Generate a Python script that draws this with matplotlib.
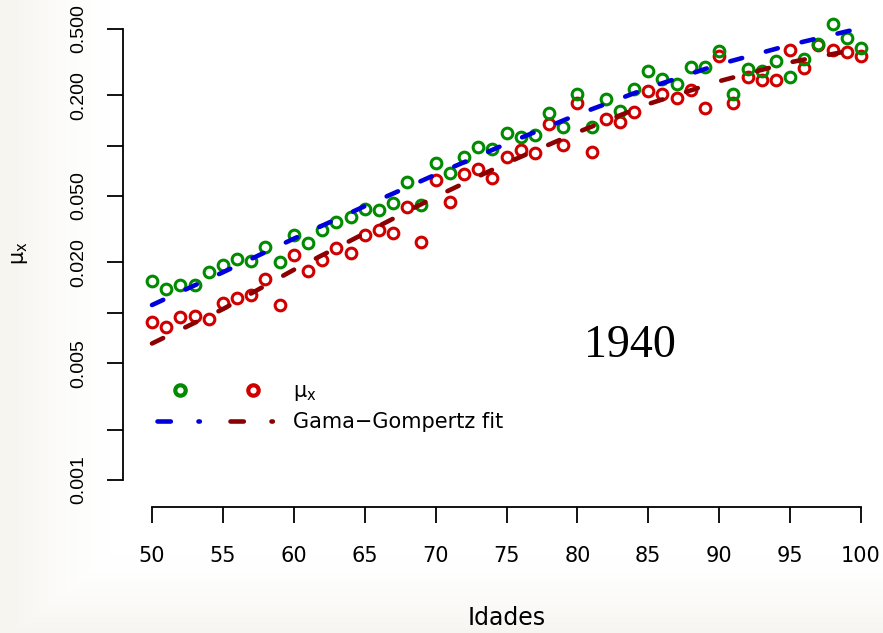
import numpy as np
import matplotlib
matplotlib.use("Agg")
import matplotlib.pyplot as plt
from matplotlib.lines import Line2D
from matplotlib.legend_handler import HandlerTuple
from matplotlib.ticker import NullLocator

plt.rcParams['lines.scale_dashes'] = False
plt.rcParams['mathtext.fontset'] = 'dejavusans'

# observed mu_x, ages 50..100
ages = list(range(50, 101))
mu_green = [0.01549, 0.01388, 0.01467, 0.01467, 0.01754, 0.01932, 0.02098, 0.02040, 0.02475, 0.02012,
            0.02920, 0.02615, 0.03128, 0.03493, 0.03741, 0.04177, 0.04120, 0.04537, 0.06057, 0.04414,
            0.07923, 0.06857, 0.08546, 0.09808, 0.09543, 0.1190, 0.1126, 0.1157, 0.1567, 0.1292,
            0.2049, 0.1292, 0.1900, 0.1610, 0.2180, 0.2794, 0.2502, 0.2335, 0.2952, 0.2952,
            0.3680, 0.2035, 0.2872, 0.2794, 0.3206, 0.2572, 0.3295, 0.4053, 0.5337, 0.4401,
            0.3835]
mu_red = [0.00881, 0.008225, 0.009438, 0.00957, 0.009182, 0.01145, 0.01226, 0.01278, 0.01593, 0.01114,
          0.02217, 0.01778, 0.02069, 0.02441, 0.02279, 0.02920, 0.03128, 0.03001, 0.04294, 0.02651,
          0.06184, 0.04600, 0.06763, 0.07244, 0.06400, 0.08546, 0.09412, 0.09031, 0.1347, 0.1008,
          0.1798, 0.09156, 0.1443, 0.1384, 0.1589, 0.2121, 0.2035, 0.1927, 0.2150, 0.1679,
          0.3435, 0.1798, 0.2572, 0.2468, 0.2468, 0.3731, 0.2912, 0.3997, 0.3731, 0.3628,
          0.3435]

# Gamma-Gompertz fitted curves
fit_ages = [50, 55, 60, 65, 70, 75, 80, 85, 90, 95, 100]
fit_blue = [0.01113, 0.01747, 0.02775, 0.04341, 0.0671, 0.1026, 0.1532, 0.2214, 0.3063, 0.4002, 0.505]
fit_darkred = [0.006553, 0.01052, 0.01808, 0.02988, 0.04941, 0.07868, 0.1201, 0.1773, 0.2427, 0.3149, 0.3808]

xticks = list(range(50, 101, 5))
yticks = [0.001, 0.002, 0.005, 0.01, 0.02, 0.05, 0.1, 0.2, 0.5]
ytick_labels = ['0.001', '', '0.005', '', '0.020', '0.050', '', '0.200', '0.500']

GREEN = '#008B00'
RED = '#D10000'
BLUE = '#0000DD'
DARKRED = '#8B0000'

W, H = 883, 633
fig = plt.figure(figsize=(W / 100, H / 100), dpi=100)

# soft off-white border like the slide background
yy, xx = np.mgrid[0:H, 0:W]
w = np.maximum(np.clip((110 - xx) / 100, 0, 1), np.clip((yy - 555) / 78, 0, 1)) ** 1.5
bg = np.array([1.0, 1.0, 1.0]) * (1 - w[..., None]) + np.array([246, 245, 240]) / 255 * w[..., None]
bg_ax = fig.add_axes([0, 0, 1, 1], zorder=-1)
bg_ax.imshow(bg, aspect='auto', interpolation='bilinear')
bg_ax.axis('off')

ax = fig.add_axes([123 / W, (H - 506.7) / H, (W - 123) / W, 506.7 / H], zorder=1)
ax.patch.set_visible(False)
ax.set_yscale('log')
ax.set_xlim(50 - 29 / 14.18, 100 + 22 / 14.18)
ax.set_ylim(10 ** (-3 - 26.7 / 167.2), 10 ** (-3 + 480 / 167.2))

ax.plot(ages, mu_red, ls='none', marker='o', ms=7.7, mew=2.2, mfc='none', mec=RED, zorder=3)
ax.plot(ages, mu_green, ls='none', marker='o', ms=7.7, mew=2.2, mfc='none', mec=GREEN, zorder=3)
ax.plot(fit_ages, fit_blue, color=BLUE, lw=3.3, dashes=[8.9, 17.7], dash_capstyle='round', zorder=4)
ax.plot(fit_ages, fit_darkred, color=DARKRED, lw=3.3, dashes=[8.9, 17.7], dash_capstyle='round', zorder=4)

for side in ['top', 'right']:
    ax.spines[side].set_visible(False)
ax.spines['left'].set_bounds(0.001, 0.5)
ax.spines['bottom'].set_bounds(50, 100)
for side in ['left', 'bottom']:
    ax.spines[side].set_linewidth(1.3)

ax.set_xticks(xticks)
ax.set_xticklabels([str(t) for t in xticks], family='DejaVu Sans', size=15)
ax.yaxis.set_minor_locator(NullLocator())
ax.set_yticks(yticks)
ax.set_yticklabels(ytick_labels, family='Liberation Sans', size=14, rotation=90, va='center')
ax.tick_params(axis='both', direction='out', length=11.5, width=1.3)
ax.tick_params(axis='x', pad=16.5)
ax.tick_params(axis='y', pad=14)

ax.set_xlabel('Idades', family='DejaVu Sans', size=17)
ax.xaxis.set_label_coords((506.5 - 123) / (W - 123), -(606 - 506.7) / 506.7)
ax.set_ylabel(r'$\mathrm{\mu}_\mathrm{x}$', size=15)
ax.yaxis.set_label_coords((30 - 123) / (W - 123), 0.5)

ax.text(83.7, 10 ** (-3 + 123.3 / 167.2), '1940', ha='center', va='baseline',
        family='Liberation Serif', size=33)

g_h = Line2D([], [], ls='none', marker='o', ms=7.5, mew=3.0, mfc='none', mec=GREEN)
r_h = Line2D([], [], ls='none', marker='o', ms=7.5, mew=3.0, mfc='none', mec=RED)
b_h = Line2D([], [], color=BLUE, lw=3.3, dashes=[9.6, 19.9, 1.0, 19.9], dash_capstyle='round')
d_h = Line2D([], [], color=DARKRED, lw=3.3, dashes=[9.6, 19.9, 1.0, 19.9], dash_capstyle='round')
ax.legend([(g_h, r_h), (b_h, d_h)], [r'$\mathrm{\mu}_\mathrm{x}$', 'Gama\u2212Gompertz fit'],
          handler_map={tuple: HandlerTuple(ndivide=None, pad=1.25)},
          loc='upper left', bbox_to_anchor=(157 / W, 1 - 381 / H), bbox_transform=fig.transFigure,
          frameon=False, borderpad=0, borderaxespad=0, handlelength=5.72, handletextpad=0.8,
          labelspacing=0.45, prop={'family': 'DejaVu Sans', 'size': 15})

fig.savefig('out.png', dpi=100)
